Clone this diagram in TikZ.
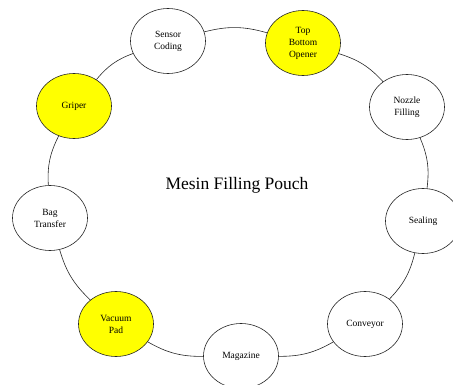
\documentclass[tikz,border=0pt]{standalone}
\usepackage{fontspec}
\setmainfont{Liberation Serif}
\usetikzlibrary{shapes.geometric}
\definecolor{hilite}{HTML}{FFFF00}

\begin{document}
\begin{tikzpicture}[x=1pt, y=-1pt, font=\fontsize{9.5}{12}\selectfont,
    stage/.style={draw=black!85, line width=0.6pt, ellipse, fill=white, align=center,
      minimum width=75pt, minimum height=65pt, inner sep=0pt},
    marked/.style={stage, fill=hilite}]
  \useasboundingbox (0,0) rectangle (453,385);

  \node[stage]  (sensor)  at (168,41)  {Sensor\\Coding};
  \node[marked] (opener)  at (303,43)  {Top\\Bottom\\Opener};
  \node[stage]  (nozzle)  at (407,107) {Nozzle\\Filling};
  \node[stage]  (sealing) at (423,221) {Sealing};
  \node[stage]  (conveyor) at (365,324) {Conveyor};
  \node[stage]  (magazine) at (241,356) {Magazine};
  \node[marked] (vacuum)  at (116,324) {Vacuum\\Pad};
  \node[stage]  (bag)     at (50,218)  {Bag\\Transfer};
  \node[marked] (griper)  at (74,106)  {Griper};

  \node[font=\fontsize{17.5}{20}\selectfont] (title) at (237,185) {Mesin Filling Pouch};

  \foreach \a/\b in {sensor/opener, opener/nozzle, nozzle/sealing,
      sealing/conveyor, conveyor/magazine, magazine/vacuum,
      vacuum/bag, bag/griper, griper/sensor}
    \draw[black!85, line width=0.6pt] (\a) to[bend left=15] (\b);
\end{tikzpicture}
\end{document}
